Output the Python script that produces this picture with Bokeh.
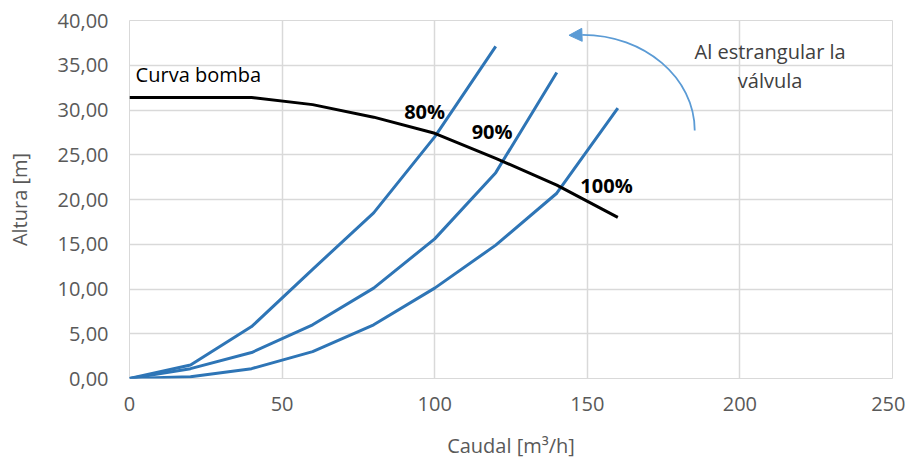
from bokeh.plotting import figure
from bokeh.models import FixedTicker, Arrow, NormalHead, Range1d
from bokeh.core.properties import value
from bokeh.embed import file_html
from bokeh.resources import INLINE

# ---- data ----
Q_BOMBA = [0, 20, 40, 60, 80, 100, 120, 140, 160]
H_BOMBA = [31.4, 31.4, 31.4, 30.6, 29.2, 27.4, 24.6, 21.6, 18.0]

Q_80 = [0, 20, 40, 60, 80, 100, 120]
H_80 = [0, 1.5, 5.8, 12.2, 18.5, 27.0, 37.1]

Q_90 = [0, 20, 40, 60, 80, 100, 120, 140]
H_90 = [0, 1.1, 2.9, 6.0, 10.1, 15.6, 23.0, 34.2]

Q_100 = [0, 20, 40, 60, 80, 100, 120, 140, 160]
H_100 = [0, 0.2, 1.1, 3.0, 6.0, 10.1, 14.9, 20.7, 30.2]

X_TICKS = [0, 50, 100, 150, 200, 250]
Y_TICKS = [0, 5, 10, 15, 20, 25, 30, 35, 40]
Y_TICK_LABELS = ["0,00", "5,00", "10,00", "15,00", "20,00", "25,00", "30,00", "35,00", "40,00"]

LABELS = ["80%", "90%", "100%"]
LABEL_X = [96.7, 118.8, 156.3]
LABEL_Y = [29.8, 27.6, 21.6]

CURVE_LABEL = "Curva bomba"
NOTE_LINES = ["Al estrangular la", "válvula"]

# arrow (arc) geometry in data units
ARC = dict(x0=185.2, y0=27.7, x1=148.4, y1=38.4, cx0=185.2, cy0=33.6, cx1=168.7, cy1=38.4)
ARROW_TIP = (144.0, 38.35)

FONT = "Open Sans"
BLUE = "#2E75B6"
GRID = "#d9d9d9"
TICK_COLOR = "#595959"

p = figure(frame_width=763, frame_height=358, output_backend="svg", toolbar_location=None,
           x_range=Range1d(0, 250), y_range=Range1d(0, 40),
           min_border_left=129, min_border_right=13, min_border_top=20, min_border_bottom=84)
p.outline_line_color = GRID

p.xaxis.ticker = FixedTicker(ticks=X_TICKS)
p.yaxis.ticker = FixedTicker(ticks=Y_TICKS)
p.yaxis.major_label_overrides = {t: l for t, l in zip(Y_TICKS, Y_TICK_LABELS)}
p.xaxis.major_label_overrides = {t: str(t) for t in X_TICKS}

for ax in (p.xaxis, p.yaxis):
    ax.axis_line_color = None
    ax.major_tick_line_color = None
    ax.minor_tick_line_color = None
    ax.major_tick_in = 0
    ax.major_tick_out = 0
    ax.minor_tick_in = 0
    ax.minor_tick_out = 0
    ax.major_label_text_font = FONT
    ax.major_label_text_font_size = "20px"
    ax.major_label_text_color = TICK_COLOR
    ax.axis_label_text_font = FONT
    ax.axis_label_text_font_size = "20px"
    ax.axis_label_text_color = TICK_COLOR
    ax.axis_label_text_font_style = "normal"

p.xaxis.major_label_standoff = 18
p.yaxis.major_label_standoff = 21
p.xaxis.axis_label = "Caudal [m³/h]"
p.yaxis.axis_label = "Altura [m]"
p.xaxis.axis_label_standoff = 18
p.yaxis.axis_label_standoff = 22

p.xgrid.grid_line_color = GRID
p.ygrid.grid_line_color = GRID
p.xgrid.grid_line_width = 1.5
p.ygrid.grid_line_width = 1.5

p.line(Q_100, H_100, line_color=BLUE, line_width=3)
p.line(Q_90, H_90, line_color=BLUE, line_width=3)
p.line(Q_80, H_80, line_color=BLUE, line_width=3)
p.line(Q_BOMBA, H_BOMBA, line_color="black", line_width=3)

p.text(x=[2.0], y=[34.0], text=[CURVE_LABEL], text_font=value(FONT), text_font_size="20px",
       text_color="black", text_align="left", text_baseline="middle")
p.text(x=LABEL_X, y=LABEL_Y, text=LABELS, text_font=value(FONT), text_font_size="20px",
       text_color="black", text_align="center", text_baseline="middle", text_font_style="bold")
p.text(x=[209.9, 209.9], y=[36.5, 33.3], text=NOTE_LINES, text_font=value(FONT),
       text_font_size="20px", text_color="#404040", text_align="center", text_baseline="middle")

p.bezier(x0=[ARC["x0"]], y0=[ARC["y0"]], x1=[ARC["x1"]], y1=[ARC["y1"]],
         cx0=[ARC["cx0"]], cy0=[ARC["cy0"]], cx1=[ARC["cx1"]], cy1=[ARC["cy1"]],
         line_color="#5B9BD5", line_width=1.8)
p.add_layout(Arrow(end=NormalHead(size=13, fill_color="#5B9BD5", line_color="#5B9BD5"),
                   x_start=ARC["x1"], y_start=ARC["y1"], x_end=ARROW_TIP[0], y_end=ARROW_TIP[1],
                   line_color="#5B9BD5", line_width=1.8))

open("out.html", "w").write(file_html(p, INLINE))
